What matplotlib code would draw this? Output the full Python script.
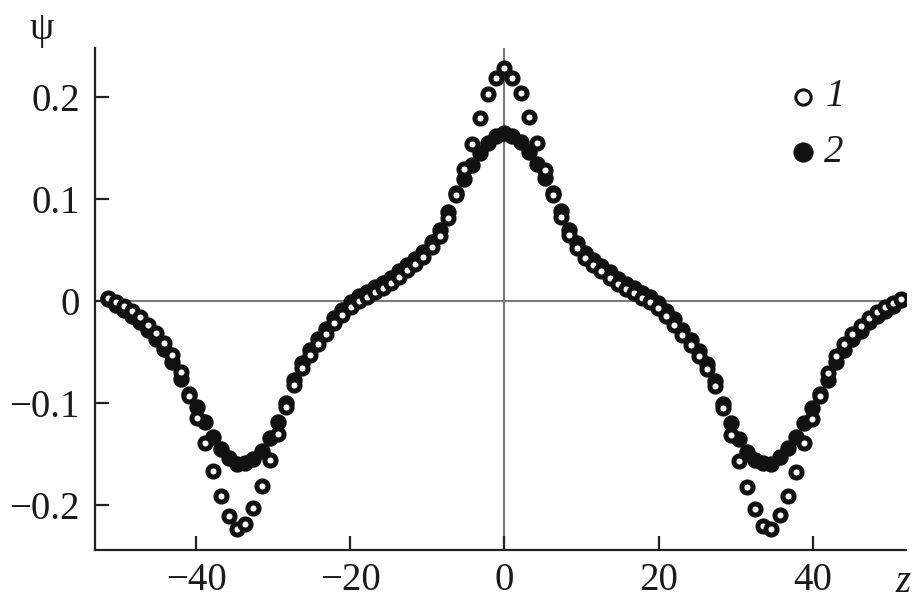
import matplotlib
matplotlib.use("Agg")
import matplotlib.pyplot as plt

# sample positions along z
z = [-51.45, -50.40, -49.35, -48.30, -47.25, -46.20, -45.15, -44.10, -43.05, -42.00,
     -40.95, -39.90, -38.85, -37.80, -36.75, -35.70, -34.65, -33.60, -32.55, -31.50,
     -30.45, -29.40, -28.35, -27.30, -26.25, -25.20, -24.15, -23.10, -22.05, -21.00,
     -19.95, -18.90, -17.85, -16.80, -15.75, -14.70, -13.65, -12.60, -11.55, -10.50,
     -9.45, -8.40, -7.35, -6.30, -5.25, -4.20, -3.15, -2.10, -1.05, 0.00,
     1.05, 2.10, 3.15, 4.20, 5.25, 6.30, 7.35, 8.40, 9.45, 10.50,
     11.55, 12.60, 13.65, 14.70, 15.75, 16.80, 17.85, 18.90, 19.95, 21.00,
     22.05, 23.10, 24.15, 25.20, 26.25, 27.30, 28.35, 29.40, 30.45, 31.50,
     32.55, 33.60, 34.65, 35.70, 36.75, 37.80, 38.85, 39.90, 40.95, 42.00,
     43.05, 44.10, 45.15, 46.20, 47.25, 48.30, 49.35, 50.40, 51.45]

# series 1 (open circles)
psi_1 = [0.003, -0.001, -0.005, -0.010, -0.016, -0.023, -0.031, -0.041, -0.053, -0.070,
         -0.093, -0.115, -0.139, -0.167, -0.191, -0.211, -0.223, -0.219, -0.203, -0.181,
         -0.156, -0.130, -0.104, -0.082, -0.066, -0.053, -0.042, -0.032, -0.022, -0.014,
         -0.006, 0.000, 0.004, 0.009, 0.013, 0.018, 0.024, 0.030, 0.036, 0.043,
         0.053, 0.064, 0.081, 0.104, 0.129, 0.154, 0.179, 0.203, 0.219, 0.228,
         0.219, 0.204, 0.180, 0.155, 0.128, 0.104, 0.082, 0.065, 0.052, 0.042,
         0.035, 0.029, 0.023, 0.017, 0.012, 0.008, 0.003, -0.001, -0.007, -0.015,
         -0.023, -0.033, -0.043, -0.054, -0.067, -0.083, -0.105, -0.131, -0.157, -0.182,
         -0.204, -0.220, -0.223, -0.210, -0.191, -0.168, -0.139, -0.116, -0.093, -0.071,
         -0.054, -0.042, -0.032, -0.024, -0.017, -0.011, -0.006, -0.002, 0.002]

# series 2 (filled circles)
psi_2 = [0.002, -0.004, -0.009, -0.015, -0.021, -0.028, -0.037, -0.047, -0.060, -0.076,
         -0.091, -0.104, -0.119, -0.133, -0.145, -0.154, -0.160, -0.159, -0.155, -0.147,
         -0.134, -0.119, -0.100, -0.077, -0.061, -0.048, -0.037, -0.027, -0.017, -0.009,
         -0.001, 0.005, 0.009, 0.014, 0.018, 0.023, 0.029, 0.035, 0.041, 0.048,
         0.058, 0.070, 0.087, 0.106, 0.120, 0.133, 0.145, 0.155, 0.162, 0.165,
         0.162, 0.156, 0.146, 0.134, 0.121, 0.106, 0.088, 0.070, 0.057, 0.047,
         0.040, 0.034, 0.028, 0.022, 0.017, 0.013, 0.008, 0.004, -0.002, -0.010,
         -0.018, -0.028, -0.038, -0.049, -0.062, -0.078, -0.101, -0.120, -0.135, -0.148,
         -0.156, -0.159, -0.160, -0.153, -0.144, -0.133, -0.120, -0.105, -0.091, -0.077,
         -0.060, -0.048, -0.037, -0.029, -0.021, -0.015, -0.010, -0.005, 0.001]

series_labels = ["1", "2"]
xticks = [-40, -20, 0, 20, 40]
xtick_labels = ["\u221240", "\u221220", "0", "20", "40"]
yticks = [-0.2, -0.1, 0, 0.1, 0.2]
ytick_labels = ["\u22120.2", "\u22120.1", "0", "0.1", "0.2"]

plt.rcParams["font.family"] = ["Liberation Serif", "DejaVu Serif"]

fig = plt.figure(figsize=(9.23, 6.12), dpi=100)
ax = fig.add_axes([95 / 923, 62 / 612, 811 / 923, 502.3 / 612])

ax.axhline(0, color="#7a7a7a", lw=1.5, zorder=1)
ax.axvline(0, color="#7a7a7a", lw=1.5, zorder=1)

# filled underneath, open rings on top (as in the source figure)
ax.plot(z, psi_2, "o", ms=10.5, mfc="#111111", mec="#111111", mew=1.3, zorder=3)
ax.plot(z, psi_1, "o", ms=8.0, mfc="white", mec="#111111", mew=3.6, zorder=4)

ax.set_xlim(-53.1, 52.1)
ax.set_ylim(-0.244, 0.2483)

for side in ["top", "right"]:
    ax.spines[side].set_visible(False)
for side in ["left", "bottom"]:
    ax.spines[side].set_linewidth(1.6)
    ax.spines[side].set_color("#222222")

ax.set_xticks(xticks)
ax.set_xticklabels(xtick_labels)
ax.set_yticks(yticks)
ax.set_yticklabels(ytick_labels)
ax.tick_params(axis="both", direction="in", length=10, width=1.6,
               color="#222222", labelsize=28, labelcolor="#1a1a1a")
ax.tick_params(axis="y", pad=11)
ax.tick_params(axis="x", pad=9)

fig.text(42 / 923, 1 - 30 / 612, "\u03c8", fontsize=28, ha="center", va="center",
         color="#1a1a1a")
fig.text(903 / 923, 1 - 583 / 612, "z", fontsize=28, style="italic",
         ha="center", va="center", color="#1a1a1a")

# legend drawn by hand in the upper right (figure pixel positions)
fig.lines.append(plt.Line2D([803 / 923], [1 - 97 / 612], marker="o", ms=11,
                            mfc="white", mec="#111111", mew=2.2, ls="none",
                            transform=fig.transFigure))
fig.lines.append(plt.Line2D([803 / 923], [1 - 152 / 612], marker="o", ms=14,
                            mfc="#111111", mec="#111111", mew=0.5, ls="none",
                            transform=fig.transFigure))
fig.text(826 / 923, 1 - 97 / 612, series_labels[0], fontsize=28, style="italic",
         ha="left", va="center", color="#1a1a1a")
fig.text(824 / 923, 1 - 152 / 612, series_labels[1], fontsize=28, style="italic",
         ha="left", va="center", color="#1a1a1a")

fig.savefig("out.png", dpi=100)
